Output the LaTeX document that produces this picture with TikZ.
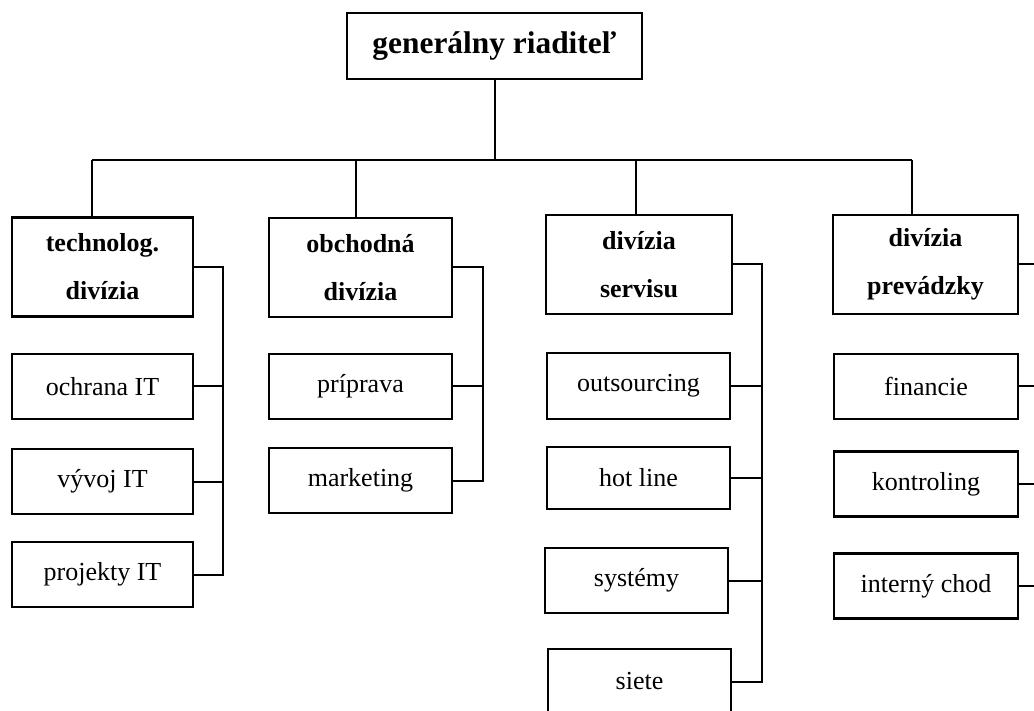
\documentclass[tikz,border=0pt]{standalone}
\usepackage{fontspec}
\setmainfont{Liberation Serif}
\usetikzlibrary{positioning}

\tikzset{
    box/.style={draw, line width=1.1pt, rectangle, inner sep=0pt, align=center},
    topbox/.style={box, minimum width=147.5pt, minimum height=33pt,
        font=\fontsize{15.7}{19}\selectfont\bfseries},
    divbox/.style={box, minimum width=91.5pt, minimum height=49.5pt,
        font=\fontsize{13}{24}\selectfont\bfseries},
    unitbox/.style={box, minimum width=91.5pt, minimum height=32.5pt,
        font=\fontsize{13}{16}\selectfont},
    link/.style={line width=1pt}
}

\begin{document}
\begin{tikzpicture}[x=0.5pt, y=-0.5pt]
    \useasboundingbox (0, 0) rectangle (1034, 711);

    % top
    \node[topbox] (gr) at (494.5, 46) {generálny riaditeľ};

    % divisions
    \node[divbox, minimum width=90.5pt] (tech) at (102.5, 267) {technolog.\\divízia};
    \node[divbox] (obch) at (360.5, 267.5) {obchodná\\divízia};
    \node[divbox, minimum width=93pt] (serv) at (639, 264.5) {divízia\\servisu};
    \node[divbox, minimum width=92.5pt] (prev) at (925.5, 264.5) {divízia\\prevádzky};

    % units of each division
    \node[unitbox, minimum width=90.5pt] (ochrana) at (102.5, 386.5) {ochrana IT};
    \node[unitbox, minimum width=90.5pt] (vyvoj) at (102.5, 481.5) {vývoj IT};
    \node[unitbox, minimum width=90.5pt] (projekty) at (102.5, 574.5) {projekty IT};

    \node[unitbox] (priprava) at (360.5, 386.5) {príprava};
    \node[unitbox] (marketing) at (360.5, 480.5) {marketing};

    \node[unitbox, minimum height=33pt] (outsourcing) at (638.5, 386) {outsourcing};
    \node[unitbox, minimum height=31pt] (hotline) at (638.5, 478) {hot line};
    \node[unitbox] (systemy) at (636.5, 580.5) {systémy};
    \node[unitbox] (siete) at (639.5, 681.5) {siete};

    \node[unitbox, minimum width=92pt] (financie) at (926, 386.5) {financie};
    \node[unitbox, minimum width=92pt] (kontroling) at (926, 484) {kontroling};
    \node[unitbox, minimum width=92pt] (interny) at (926, 586) {interný chod};

    % main rail and drops
    \coordinate (rail) at (493, 160);
    \coordinate (d1) at (92, 160);
    \coordinate (d2) at (356, 160);
    \coordinate (d3) at (636, 160);
    \coordinate (d4) at (912, 160);
    \draw[link] (gr.south) -- (gr.south |- rail);
    \draw[link] (d1) -- (d4);
    \draw[link] (d1) -- (d1 |- tech.north);
    \draw[link] (d2) -- (d2 |- obch.north);
    \draw[link] (d3) -- (d3 |- serv.north);
    \draw[link] (d4) -- (d4 |- prev.north);

    % side bars
    \coordinate (bar1) at (223, 0);
    \coordinate (bar2) at (483, 0);
    \coordinate (bar3) at (762, 0);
    \coordinate (edge) at (1034, 0);

    \draw[link] (tech.east) -- (tech.east -| bar1) -- (projekty.east -| bar1) -- (projekty.east);
    \foreach \n in {ochrana, vyvoj}
        \draw[link] (\n.east) -- (\n.east -| bar1);

    \draw[link] (obch.east) -- (obch.east -| bar2) -- (marketing.east -| bar2) -- (marketing.east);
    \draw[link] (priprava.east) -- (priprava.east -| bar2);

    \draw[link] (serv.east) -- (serv.east -| bar3) -- (siete.east -| bar3) -- (siete.east);
    \foreach \n in {outsourcing, hotline, systemy}
        \draw[link] (\n.east) -- (\n.east -| bar3);

    \foreach \n in {prev, financie, kontroling, interny}
        \draw[link] (\n.east) -- (\n.east -| edge);
\end{tikzpicture}
\end{document}
